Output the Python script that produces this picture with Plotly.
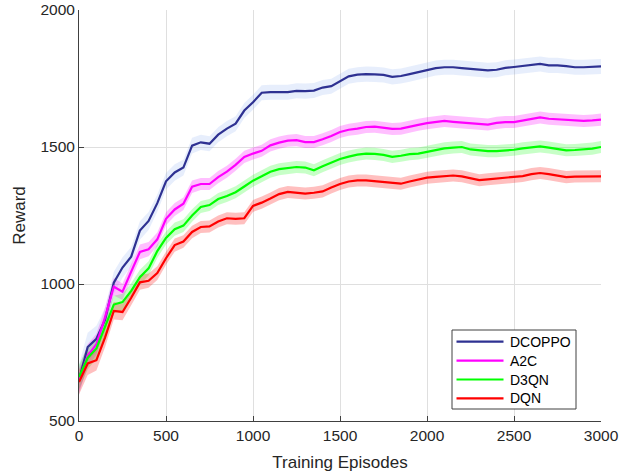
import plotly.graph_objects as go

episodes = [0, 50, 100, 150, 200, 250, 300, 350, 400, 450, 500, 550, 600, 650, 700, 750, 800, 850, 900, 950,
            1000, 1050, 1100, 1150, 1200, 1250, 1300, 1350, 1400, 1450, 1500, 1550, 1600, 1650, 1700, 1750,
            1800, 1850, 1900, 1950, 2000, 2050, 2100, 2150, 2200, 2250, 2300, 2350, 2400, 2450, 2500, 2550,
            2600, 2650, 2700, 2750, 2800, 2850, 2900, 2950, 3000]

dcoppo = [650, 770, 800, 870, 1005, 1060, 1100, 1195, 1230, 1295, 1375, 1407, 1425, 1505, 1517, 1512, 1545,
          1567, 1585, 1633, 1663, 1698, 1700, 1699, 1700, 1705, 1704, 1706, 1717, 1722, 1740, 1758, 1764, 1766,
          1765, 1763, 1756, 1759, 1766, 1774, 1782, 1788, 1791, 1791, 1788, 1785, 1782, 1780, 1782, 1789, 1792,
          1795, 1800, 1803, 1798, 1798, 1795, 1791, 1791, 1792, 1794]

a2c = [650, 738, 780, 879, 990, 972, 1045, 1117, 1127, 1163, 1238, 1272, 1293, 1355, 1365, 1365, 1390, 1410,
       1435, 1464, 1476, 1486, 1506, 1516, 1523, 1525, 1518, 1518, 1528, 1540, 1555, 1563, 1567, 1573, 1574,
       1569, 1566, 1567, 1575, 1581, 1587, 1592, 1595, 1592, 1590, 1588, 1585, 1582, 1588, 1591, 1591, 1597,
       1603, 1608, 1603, 1601, 1598, 1595, 1595, 1597, 1600]

d3qn = [660, 730, 765, 842, 925, 934, 975, 1025, 1057, 1120, 1168, 1200, 1213, 1250, 1281, 1288, 1310, 1321,
        1335, 1356, 1377, 1393, 1410, 1419, 1424, 1427, 1425, 1415, 1430, 1443, 1456, 1465, 1472, 1476, 1475,
        1471, 1464, 1468, 1474, 1476, 1482, 1489, 1495, 1498, 1500, 1491, 1487, 1485, 1485, 1487, 1490, 1495,
        1499, 1502, 1498, 1492, 1488, 1489, 1491, 1494, 1500]

dqn = [642, 710, 722, 805, 902, 898, 950, 1006, 1012, 1040, 1094, 1142, 1155, 1190, 1208, 1210, 1228, 1240,
       1238, 1240, 1285, 1297, 1312, 1328, 1336, 1334, 1330, 1333, 1338, 1352, 1365, 1374, 1378, 1378, 1375,
       1371, 1368, 1366, 1374, 1381, 1388, 1391, 1394, 1396, 1393, 1387, 1379, 1382, 1385, 1389, 1391, 1394,
       1401, 1405, 1401, 1395, 1390, 1392, 1393, 1393, 1393]

# half-width of the shaded band (spread across runs)
spread = [45, 42, 38, 35, 32, 30, 28, 27, 26, 25, 24, 24, 23, 23, 22, 22, 22, 22, 22, 22,
          22, 22, 22, 22, 22, 22, 22, 22, 22, 22, 22, 22, 22, 22, 22, 22, 22, 22, 22, 22,
          22, 22, 22, 22, 22, 22, 22, 22, 22, 22, 22, 22, 22, 22, 22, 22, 22, 22, 22, 22, 22]
band_scale = [1.25, 1.0, 1.0, 1.0]

names = ["DCOPPO", "A2C", "D3QN", "DQN"]
series = [dcoppo, a2c, d3qn, dqn]
line_colors = ["#2e3192", "#ff00ff", "#00ff00", "#ff0000"]
band_colors = ["rgba(120,160,240,0.18)", "rgba(255,0,255,0.25)", "rgba(0,255,0,0.22)", "rgba(255,0,0,0.25)"]

FONT = "Liberation Sans, Arial"

fig = go.Figure()
for name, ys, lc, bc, sc in zip(names, series, line_colors, band_colors, band_scale):
    upper = [y + s * sc for y, s in zip(ys, spread)]
    lower = [y - s * sc for y, s in zip(ys, spread)]
    fig.add_trace(go.Scatter(x=episodes, y=upper, mode="lines", line=dict(width=0, color=bc),
                             showlegend=False, hoverinfo="skip"))
    fig.add_trace(go.Scatter(x=episodes, y=lower, mode="lines", line=dict(width=0, color=bc),
                             fill="tonexty", fillcolor=bc, showlegend=False, hoverinfo="skip"))
for name, ys, lc in zip(names, series, line_colors):
    fig.add_trace(go.Scatter(x=episodes, y=ys, mode="lines", name=name, showlegend=False,
                             line=dict(color=lc, width=2.2)))

axis_common = dict(
    showgrid=True, gridcolor="#dfdfdf", gridwidth=1,
    showline=True, linecolor="#404040", linewidth=1,
    ticks="inside", ticklen=5, tickcolor="#404040",
    tickfont=dict(family=FONT, size=15.5, color="#262626"),
    zeroline=False, mirror=False, automargin=False,
)

# plot area in pixels
L, R, T, B = 79, 33, 10, 52
W, H = 634, 473
pw, ph = W - L - R, H - T - B


def px_x(p):
    return (p - L) / pw


def px_y(p):
    return (H - B - p) / ph


# manual legend (MATLAB-style box)
box_x0, box_x1, box_y0, box_y1 = 452, 576, 330, 409
shapes = [dict(type="rect", xref="paper", yref="paper",
               x0=px_x(box_x0), x1=px_x(box_x1), y0=px_y(box_y1), y1=px_y(box_y0),
               line=dict(color="#404040", width=1), fillcolor="white", layer="above")]
annotations = []
entry_y = [341.7, 360.7, 379.5, 398.3]
for name, lc, ey in zip(names, line_colors, entry_y):
    shapes.append(dict(type="line", xref="paper", yref="paper",
                       x0=px_x(456.5), x1=px_x(503.5), y0=px_y(ey), y1=px_y(ey),
                       line=dict(color=lc, width=2.2), layer="above"))
    annotations.append(dict(xref="paper", yref="paper", x=px_x(508), y=px_y(ey),
                            xanchor="left", yanchor="middle", showarrow=False, text=name,
                            font=dict(family=FONT, size=14, color="#000000")))

fig.update_layout(
    width=W, height=H,
    margin=dict(l=L, r=R, t=T, b=B, autoexpand=False),
    paper_bgcolor="white", plot_bgcolor="white",
    font=dict(family=FONT, color="#262626"),
    xaxis=dict(range=[0, 3000], tickvals=[0, 500, 1000, 1500, 2000, 2500, 3000],
               title=dict(text="Training Episodes", font=dict(size=17, color="#262626"), standoff=13),
               **axis_common),
    yaxis=dict(range=[500, 2000], tickvals=[500, 1000, 1500, 2000],
               title=dict(text="Reward", font=dict(size=17, color="#262626"), standoff=10),
               **axis_common),
    shapes=shapes,
    annotations=annotations,
    showlegend=False,
)

fig.write_html("out.html")
